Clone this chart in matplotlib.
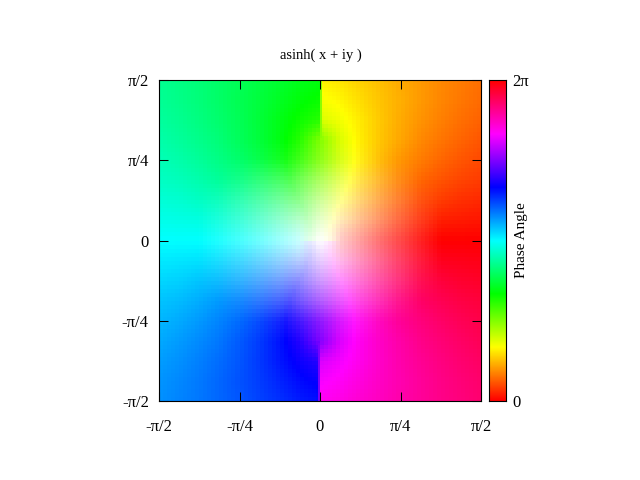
"""asinh(x + iy) phase plot: hue is the phase angle, whiteness shows small magnitude."""
import numpy as np
import matplotlib

matplotlib.use("Agg")
import matplotlib.pyplot as plt  # noqa: E402
from matplotlib.colors import ListedColormap, hsv_to_rgb  # noqa: E402

plt.rcParams["font.family"] = ["Liberation Serif", "DejaVu Sans"]

# upper right quadrant, nodes every pi/16; rows are y from 0 up, columns x from 0 right
grid_pos = np.linspace(0, np.pi / 2, 9)
hue_deg = np.array([
    [90, 0, 0, 0, 0, 0, 0, 0, 0],
    [90, 44, 25, 17, 12, 9, 7, 6, 5],
    [90, 62, 42, 30, 22, 17, 14, 11, 9.5],
    [90, 69, 51, 39, 30, 24, 19.5, 16, 14],
    [90, 71, 56, 44, 35, 29, 24, 20, 17],
    [90, 69, 56, 46.5, 39, 32, 27.5, 23.5, 20],
    [69, 63, 55, 47, 40, 34.5, 30, 26, 23],
    [62, 58, 52, 46, 41, 36, 31.5, 28, 25],
    [57, 54, 49, 45, 40, 36, 32, 29, 26],
])
saturation = np.array([
    [0, .20, .38, .56, .72, .87, 1, 1, 1],
    [.20, .28, .43, .59, .75, .89, 1, 1, 1],
    [.40, .45, .55, .68, .81, .94, 1, 1, 1],
    [.63, .65, .72, .81, .92, 1, 1, 1, 1],
    [.90, .90, .92, .97, 1, 1, 1, 1, 1],
    [1, 1, 1, 1, 1, 1, 1, 1, 1],
    [1, 1, 1, 1, 1, 1, 1, 1, 1],
    [1, 1, 1, 1, 1, 1, 1, 1, 1],
    [1, 1, 1, 1, 1, 1, 1, 1, 1],
])

# thin column seen on the cut above y = 1, in both halves of the picture
cut_hue_deg = 88
cut_start = 1.0

tick_pos = [-np.pi / 2, -np.pi / 4, 0, np.pi / 4, np.pi / 2]
tick_labels = ["-π/2", "-π/4", "0", "π/4", "π/2"]
CELLS = 40


def resample(table, cx, cy):
    """bilinear read of a quadrant table at the cell centres"""
    by_col = np.array([np.interp(cx, grid_pos, row) for row in table])
    return np.array([np.interp(cy, grid_pos, col) for col in by_col.T]).T


edges = np.linspace(0, np.pi / 2, CELLS + 1)
centres = (edges[:-1] + edges[1:]) / 2
hue_q = resample(hue_deg, centres, centres)
sat_q = resample(saturation, centres, centres)


def quadrant_rgb(hue):
    hsv = np.dstack([(hue % 360) / 360, sat_q, np.ones_like(sat_q)])
    return hsv_to_rgb(hsv)


fig = plt.figure(figsize=(6.4, 4.8), dpi=100)
ax = fig.add_axes([159 / 640, 1 - 401 / 480, 322 / 640, 321 / 480])

# the branch cut along x = 0 keeps the four quadrants apart
ax.pcolormesh(edges, edges, quadrant_rgb(hue_q))
ax.pcolormesh(-edges[::-1], edges, quadrant_rgb(180 - hue_q)[:, ::-1])
ax.pcolormesh(-edges[::-1], -edges[::-1], quadrant_rgb(180 + hue_q)[::-1, ::-1])
ax.pcolormesh(edges, -edges[::-1], quadrant_rgb(360 - hue_q)[::-1])

# the same column mirrored below, as the function is odd
cut_rgb = hsv_to_rgb([cut_hue_deg / 360, 1, 1])
ax.fill_betweenx([cut_start, np.pi / 2], 0, edges[1] / 2, color=cut_rgb, linewidth=0)
cut_rgb_low = hsv_to_rgb([(180 + cut_hue_deg) / 360, 1, 1])
ax.fill_betweenx([-np.pi / 2, -cut_start], -edges[1] / 2, 0, color=cut_rgb_low, linewidth=0)

ax.set_xlim(-np.pi / 2, np.pi / 2)
ax.set_ylim(-np.pi / 2, np.pi / 2)
ax.set_xticks(tick_pos, tick_labels)
ax.set_yticks(tick_pos, tick_labels)
ax.tick_params(direction="in", length=6.5, width=0.75, top=True, right=True, labelsize=12)
ax.tick_params(axis="x", pad=13)
ax.tick_params(axis="y", pad=7.3)
for spine in ax.spines.values():
    spine.set_linewidth(0.8)
fig.text(321 / 640, 1 - 55 / 480, "asinh( x + iy )", ha="center", va="center", fontsize=10.5)

# colour bar
cbar_hue = np.linspace(0, 1, 256)
cmap = ListedColormap(hsv_to_rgb(np.column_stack([cbar_hue, np.ones(256), np.ones(256)])))
cax = fig.add_axes([489 / 640, 1 - 401 / 480, 17 / 640, 321 / 480])
cax.imshow(cbar_hue[:, None], origin="lower", aspect="auto", cmap=cmap,
           extent=[0, 1, 0, 2 * np.pi])
cax.set_xticks([])
cax.yaxis.tick_right()
cax.set_yticks([0, 2 * np.pi], ["0", "2π"])
cax.set_ylim(0, 2 * np.pi)
cax.tick_params(length=0, labelsize=12, pad=4.5)
for spine in cax.spines.values():
    spine.set_linewidth(0.8)
fig.text(521 / 640, 1 - 240 / 480, "Phase Angle", rotation=90, ha="center", va="center",
         fontsize=11)

fig.savefig("out.png", dpi=100)
